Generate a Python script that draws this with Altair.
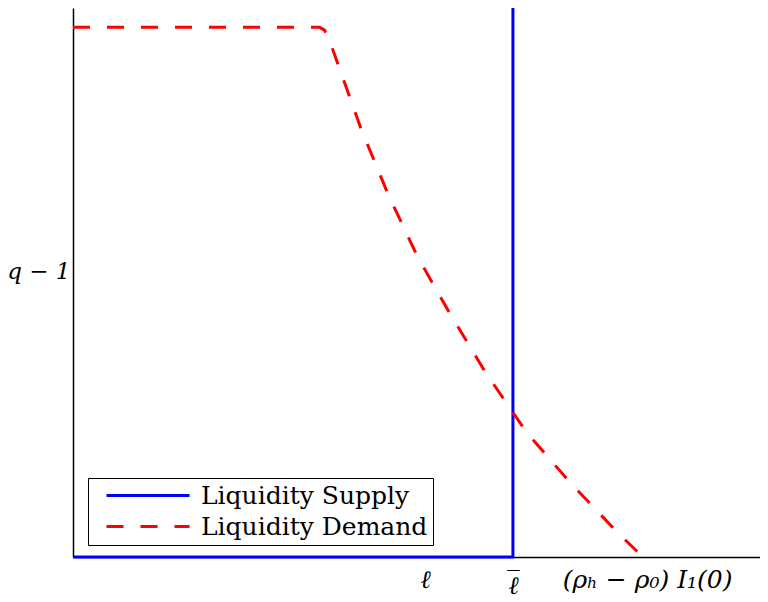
import altair as alt
import pandas as pd
import json

series_names = ["Liquidity Supply", "Liquidity Demand"]
series_colors = ["#0000ff", "#ff0000"]

supply_x = [0.0, 0.633, 0.633]
supply_y = [0.0, 0.0, 1.0]

demand_x = [0.0, 0.355, 0.362, 0.374, 0.414, 0.453, 0.495, 0.542, 0.594, 0.653, 0.715, 0.783, 0.820]
demand_y = [0.958, 0.958, 0.953, 0.917, 0.776, 0.657, 0.545, 0.441, 0.333, 0.225, 0.135, 0.045, 0.0]

x_domain = [0.0, 0.9885]
y_domain = [0.0, 0.993]

x_tick_values = [0.5065, 0.633, 0.826]
x_tick_labels = ["\u2113", ["\u203e", "\u2113"], "(\u03c1\u2095 \u2212 \u03c1\u2080) I\u2081(0)"]
y_tick_values = [0.517]
y_tick_labels = ["q \u2212 1"]

rows = []
for i, (xv, yv) in enumerate(zip(supply_x, supply_y)):
    rows.append({"series": series_names[0], "x": xv, "y": yv, "idx": i})
for i, (xv, yv) in enumerate(zip(demand_x, demand_y)):
    rows.append({"series": series_names[1], "x": xv, "y": yv, "idx": i})
df = pd.DataFrame(rows)


def label_expr(values, labels):
    expr = "''"
    for v, l in reversed(list(zip(values, labels))):
        expr = f"datum.value == {v} ? {json.dumps(l)} : ({expr})"
    return expr


sym = 20
legend = alt.Legend(
    title=None,
    orient="none",
    legendX=15,
    legendY=470,
    symbolType="M-4.15,0H4.15",
    symbolSize=sym * sym,
    symbolStrokeWidth=3,
    symbolOffset=42.5,
    labelFont="DejaVu Serif",
    labelFontSize=25,
    labelColor="black",
    labelOffset=40.5,
    labelLimit=500,
    rowPadding=5,
    padding=5,
    strokeColor="black",
    fillColor="white",
    cornerRadius=0,
)

axis_common = dict(
    title=None,
    grid=False,
    ticks=False,
    domain=True,
    domainColor="black",
    domainWidth=1.5,
    labelFont="DejaVu Serif",
    labelFontStyle="italic",
    labelColor="black",
)

chart = (
    alt.Chart(df)
    .mark_line(strokeWidth=3, strokeJoin="round", strokeCap="butt")
    .encode(
        x=alt.X(
            "x:Q",
            scale=alt.Scale(domain=x_domain, nice=False, zero=False),
            axis=alt.Axis(
                values=x_tick_values,
                labelExpr=label_expr(x_tick_values, x_tick_labels),
                labelFontSize=25,
                labelPadding=10,
                labelBaseline="top",
                labelLineHeight=6,
                **axis_common,
            ),
        ),
        y=alt.Y(
            "y:Q",
            scale=alt.Scale(domain=y_domain, nice=False, zero=False),
            axis=alt.Axis(
                values=y_tick_values,
                labelExpr=label_expr(y_tick_values, y_tick_labels),
                labelFontSize=23,
                labelPadding=3,
                labelBaseline="middle",
                **axis_common,
            ),
        ),
        color=alt.Color(
            "series:N",
            scale=alt.Scale(domain=series_names, range=series_colors),
            legend=legend,
        ),
        strokeDash=alt.StrokeDash(
            "series:N",
            scale=alt.Scale(domain=series_names, range=[[1, 0], [17, 17]]),
            legend=legend,
        ),
        order=alt.Order("idx:Q"),
    )
    .properties(
        width=687,
        height=549,
        autosize=alt.AutoSizeParams(type="none"),
        padding={"left": 65, "top": 0, "right": 0, "bottom": 42},
    )
    .configure_view(stroke=None)
)

chart.save("out.html", embed_options={"renderer": "svg", "actions": False})
